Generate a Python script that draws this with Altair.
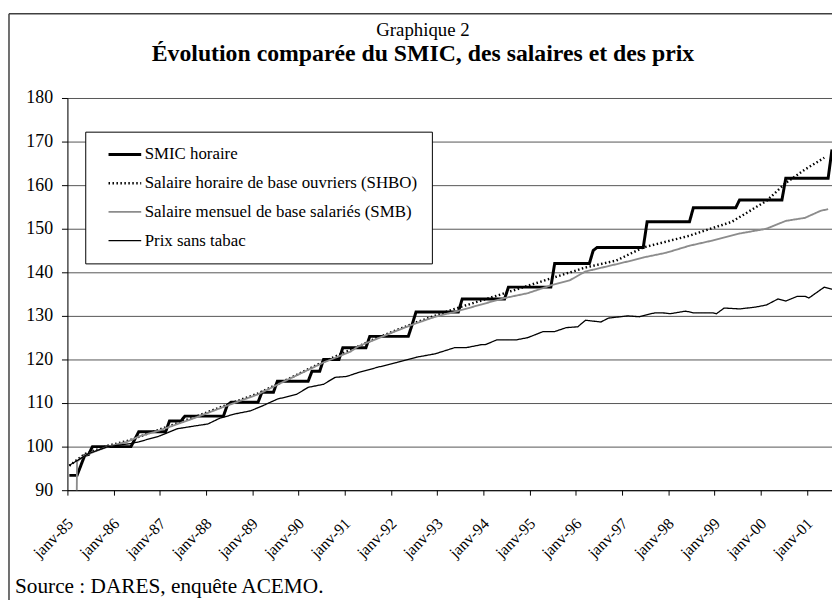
import altair as alt
import pandas as pd

series_names = [
    "SMIC horaire",
    "Salaire horaire de base ouvriers (SHBO)",
    "Salaire mensuel de base salariés (SMB)",
    "Prix sans tabac",
]

tick_labels = ["janv-85", "janv-86", "janv-87", "janv-88", "janv-89", "janv-90",
               "janv-91", "janv-92", "janv-93", "janv-94", "janv-95", "janv-96",
               "janv-97", "janv-98", "janv-99", "janv-00", "janv-01"]

# month index (0 = janv-85) and index values
smic_month = [0, 2, 4, 5, 6, 16, 18, 25, 26, 29, 30, 40, 41, 42, 49, 50, 53, 54, 62, 63, 65, 66,
              70, 71, 77, 78, 88, 89, 90, 101, 102, 113, 114, 125, 126, 135, 136, 137, 149, 150,
              161, 162, 173, 174, 185, 186, 197, 198]
smic_value = [93.4, 93.4, 98.0, 98.2, 100.0, 100.0, 103.4, 103.4, 105.9, 105.9, 107.0, 107.0, 109.5,
              110.2, 110.2, 112.5, 112.5, 115.0, 115.0, 117.3, 117.3, 120.0, 120.0, 122.7, 122.7,
              125.3, 125.3, 128.0, 130.9, 130.9, 133.9, 133.9, 136.6, 136.6, 142.0, 142.0, 145.0,
              145.7, 145.7, 151.6, 151.6, 154.8, 154.8, 156.6, 156.6, 161.6, 161.6, 168.2]

shbo_month = [0, 4, 10, 15, 23, 32, 40, 49, 57, 66, 73, 80, 90, 100, 113, 125, 134, 142, 149,
              161, 172, 181, 186, 191, 196]
shbo_value = [95.6, 98.3, 100.2, 101.3, 103.8, 106.6, 109.3, 112.2, 115.6, 119.5, 122.2, 125.0,
              128.5, 131.6, 135.2, 138.6, 141.1, 142.7, 145.7, 148.4, 151.6, 156.4, 160.5, 163.6,
              166.3]

smb_month = [1, 2, 4, 10, 15, 18, 23, 32, 40, 49, 57, 66, 73, 75, 80, 85, 90, 95, 100, 113, 119,
             125, 130, 134, 136, 146, 149, 155, 161, 167, 174, 181, 186, 191, 195, 197]
smb_value = [0, 96.6, 98.0, 100.0, 101.1, 102.3, 103.6, 106.4, 109.1, 112.0, 115.5, 119.3, 121.8,
             123.0, 124.8, 126.6, 128.3, 129.8, 130.9, 134.1, 135.2, 137.0, 138.2, 140.2, 140.6,
             142.7, 143.4, 144.5, 146.1, 147.3, 148.9, 150.0, 151.8, 152.5, 154.1, 154.5]

prix_month = [0, 5, 10, 16, 18, 23, 25, 28, 33, 36, 39, 43, 47, 50, 54, 59, 62, 66, 69, 72, 75,
              80, 85, 90, 95, 100, 103, 107, 108, 111, 116, 119, 123, 126, 129, 132, 134, 138,
              140, 145, 148, 152, 154, 156, 160, 162, 167, 168, 170, 174, 178, 181, 184, 186, 189,
              191, 192, 196, 198]
prix_value = [95.7, 98.4, 100.0, 100.7, 101.1, 102.3, 103.0, 104.1, 104.8, 105.2, 106.5, 107.5,
              108.2, 109.3, 110.9, 112.0, 113.6, 114.3, 115.9, 116.1, 117.0, 118.2, 119.3, 120.5,
              121.3, 122.7, 122.7, 123.4, 123.4, 124.5, 124.5, 125.0, 126.4, 126.4, 127.3, 127.5,
              129.0, 128.6, 129.5, 130.0, 129.8, 130.7, 130.7, 130.5, 131.1, 130.7, 130.7, 130.5,
              131.8, 131.6, 132.0, 132.5, 133.9, 133.4, 134.5, 134.5, 134.1, 136.6, 136.1]

series_data = [(smic_month, smic_value), (shbo_month, shbo_value),
               (smb_month, smb_value), (prix_month, prix_value)]

frames = []
for name, (months, values) in zip(series_names, series_data):
    frames.append(pd.DataFrame({"serie": name, "mois": months, "indice": values}))
df = pd.concat(frames, ignore_index=True)

one = pd.DataFrame({"a": [0]})
FONT = "Liberation Serif"

label_expr = "[" + ",".join("'%s'" % t for t in tick_labels) + "][round((datum.value + 0.5) / 12)]"

legend = alt.Legend(
    title=None, orient="none", legendX=18, legendY=34,
    strokeColor="black", fillColor="white", padding=14, cornerRadius=0,
    symbolType="stroke", symbolSize=1089, symbolOffset=8, labelOffset=2,
    labelFont=FONT, labelFontSize=17, labelColor="black", labelLimit=500,
    clipHeight=18, rowPadding=11,
)

color = alt.Color("serie:N", scale=alt.Scale(domain=series_names,
                  range=["black", "black", "#8c8c8c", "black"]), legend=legend)
dash = alt.StrokeDash("serie:N", scale=alt.Scale(domain=series_names,
                      range=[[1, 0], [1.5, 2.5], [1, 0], [1, 0]]), legend=legend)
width = alt.StrokeWidth("serie:N", scale=alt.Scale(domain=series_names,
                        range=[3, 1.3, 3, 1]), legend=legend)

x = alt.X("mois:Q", scale=alt.Scale(domain=[-0.5, 198], nice=False, zero=False),
          axis=alt.Axis(values=[-0.5 + 12 * k for k in range(len(tick_labels))],
                        labelExpr=label_expr, labelAngle=-45, labelAlign="right",
                        labelBaseline="top", labelPadding=20, labelOffset=-3,
                        tickSize=5, tickColor="black", domainColor="black", grid=False,
                        labelFont=FONT, labelFontSize=16, labelColor="black", title=None))
y = alt.Y("indice:Q", scale=alt.Scale(domain=[90, 180], nice=False, zero=False),
          axis=alt.Axis(values=list(range(90, 181, 10)), grid=True, gridColor="#555555",
                        gridWidth=1, tickSize=6, tickColor="black", domainColor="black",
                        labelPadding=9, labelFont=FONT, labelFontSize=18,
                        labelColor="black", title=None))

lines = []
for name in series_names:
    lines.append(
        alt.Chart(df).transform_filter(alt.datum.serie == name)
        .mark_line(clip=True, strokeJoin="miter")
        .encode(x=x, y=y, color=color, strokeDash=dash, strokeWidth=width)
    )

frame_v = alt.Chart(one).mark_rule(color="#404040", strokeWidth=1.5).encode(
    x=alt.value(-59), y=alt.value(-85), y2=alt.value(520))
frame_h = alt.Chart(one).mark_rule(color="#404040", strokeWidth=1.5).encode(
    x=alt.value(-59), x2=alt.value(790), y=alt.value(-85))

title1 = alt.Chart(one).mark_text(text="Graphique 2", font=FONT, fontSize=19,
                                  color="black", align="center", baseline="middle").encode(
    x=alt.value(359), y=alt.value(-69))
title2 = alt.Chart(one).mark_text(text="Évolution comparée du SMIC, des salaires et des prix",
                                  font=FONT, fontSize=24, fontWeight="bold",
                                  color="black", align="center", baseline="middle").encode(
    x=alt.value(359), y=alt.value(-44))
source = alt.Chart(one).mark_text(text="Source : DARES, enquête ACEMO.", font=FONT,
                                  fontSize=21.5, color="black", align="left",
                                  baseline="middle").encode(
    x=alt.value(-53), y=alt.value(494))

chart = alt.layer(frame_v, frame_h, *lines, title1, title2, source).properties(
    width=772, height=396,
    autosize=alt.AutoSizeParams(type="none"),
    padding={"left": 60, "top": 88, "right": 0, "bottom": 108},
).configure_view(stroke=None).configure(background="white")

chart.save("out.html", embed_options={"renderer": "svg", "actions": False})
